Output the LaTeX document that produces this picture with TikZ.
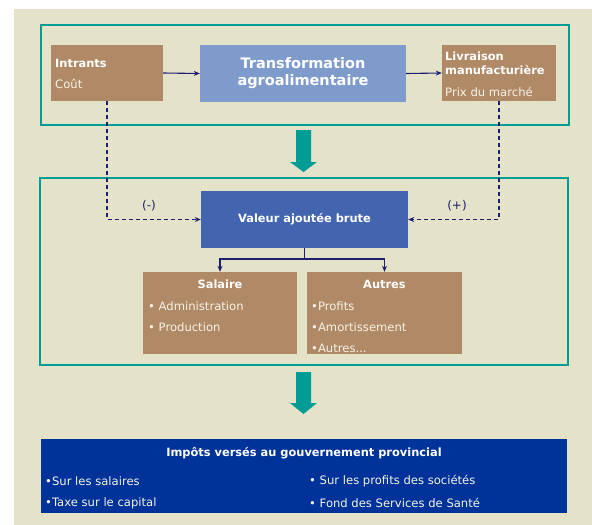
\documentclass[tikz,border=0pt]{standalone}
\usepackage{fontspec}
\setmainfont{DejaVu Sans}
\usetikzlibrary{arrows.meta}
\definecolor{beige}{HTML}{E4E3CA}
\definecolor{tealc}{HTML}{009C96}
\definecolor{brownc}{HTML}{B08A66}
\definecolor{lblue}{HTML}{7F9BCC}
\definecolor{vabc}{HTML}{4365AF}
\definecolor{navybox}{HTML}{003399}
\definecolor{navyline}{HTML}{1E1E70}
\definecolor{txtw}{HTML}{F7F2E6}
\tikzset{
  frame/.style={draw=tealc, line width=1.6pt},
  brownbox/.style={fill=brownc, draw=none, inner sep=0pt},
  bluebox/.style={draw=none, inner sep=0pt},
  wtxt/.style={text=txtw, inner sep=0pt, font=\fontsize{11.6}{14}\selectfont},
  wbold/.style={text=white, inner sep=0pt, font=\fontsize{11.4}{14}\selectfont\bfseries},
  conn/.style={draw=navyline, line width=1.1pt, -{Stealth[length=6pt,width=5pt]}},
  dconn/.style={draw=navyline, line width=1.1pt, dash pattern=on 4pt off 3pt, -{Stealth[length=6pt,width=5pt]}},
  tree/.style={draw=navyline, line width=1.1pt},
  bigarrow/.style={fill=tealc, draw=none},
  lbl/.style={text=navyline, inner sep=0pt, font=\fontsize{12}{14}\selectfont}
}
\begin{document}
\begin{tikzpicture}[x=1pt,y=-1pt]
\useasboundingbox (0,0) rectangle (592,525);
\fill[white] (0,0) rectangle (592,525);
\fill[beige] (14,9) rectangle (592,525);

% frames
\draw[frame] (41,25) rectangle (569,125);
\draw[frame] (40,178) rectangle (568,365);

% top row
\node[brownbox, minimum width=112pt, minimum height=56pt] (intr) at (107,73) {};
\node[bluebox, fill=lblue, minimum width=206pt, minimum height=57pt, text=white, align=center,
      font=\fontsize{14.5}{17}\selectfont\bfseries] (trans) at (303,73.5) {Transformation\\agroalimentaire};
\node[brownbox, minimum width=114pt, minimum height=56pt] (livr) at (499,73) {};

\node[wbold, anchor=west] (intrT) at (55,63) {Intrants};
\node[wtxt, anchor=west] (intrC) at (55,84) {Coût};
\node[wbold, anchor=west, align=left] (livrT) at (445,63) {Livraison\\manufacturière};
\node[wtxt, anchor=west] (livrP) at (445,92) {Prix du marché};

\draw[conn] (intr.east) -- (trans.west);
\draw[conn] (trans.east) -- (livr.west);

% middle
\node[bluebox, fill=vabc, minimum width=207pt, minimum height=57pt, text=white,
      font=\fontsize{11.4}{14}\selectfont\bfseries] (vab) at (304.5,219.5) {Valeur ajoutée brute};

\draw[dconn] (intr.south) |- (vab.west);
\draw[dconn] (livr.south) |- (vab.east);
\node[lbl] (minus) at (149,206) {(-)};
\node[lbl] (plus) at (457,206) {(+)};

\node[brownbox, minimum width=154pt, minimum height=82pt] (sal) at (220,313) {};
\node[brownbox, minimum width=155pt, minimum height=82pt] (aut) at (384.5,313) {};

\coordinate (split) at (304.5,259);
\draw[tree] (vab.south) -- (split);
\draw[conn] (split) -| (sal.north);
\draw[conn] (split) -| (aut.north);

\node[wbold] (salT) at (220,284.5) {Salaire};
\node[wtxt, anchor=west] (sal1) at (148,306) {• Administration};
\node[wtxt, anchor=west] (sal2) at (148,327) {• Production};
\node[wbold] (autT) at (384.5,284.5) {Autres};
\node[wtxt, anchor=west] (aut1) at (311,306) {•Profits};
\node[wtxt, anchor=west] (aut2) at (311,327) {•Amortissement};
\node[wtxt, anchor=west] (aut3) at (311,348) {•Autres...};

% big arrows
\fill[bigarrow] (296,130) -- (311,130) -- (311,162) -- (317,162) -- (303.5,172) -- (290,162) -- (296,162) -- cycle;
\fill[bigarrow] (296,372) -- (311,372) -- (311,403) -- (317,403) -- (303.5,414) -- (290,403) -- (296,403) -- cycle;

% bottom
\node[bluebox, fill=navybox, minimum width=526pt, minimum height=74pt] (imp) at (304,476) {};
\node[wbold] (impT) at (304,453) {Impôts versés au gouvernement provincial};
\node[wtxt, anchor=west] (imp1) at (45,481) {•Sur les salaires};
\node[wtxt, anchor=west] (imp2) at (45,503) {•Taxe sur le capital};
\node[wtxt, anchor=west] (imp3) at (309,481) {• Sur les profits des sociétés};
\node[wtxt, anchor=west] (imp4) at (309,503) {• Fond des Services de Santé};
\end{tikzpicture}
\end{document}
